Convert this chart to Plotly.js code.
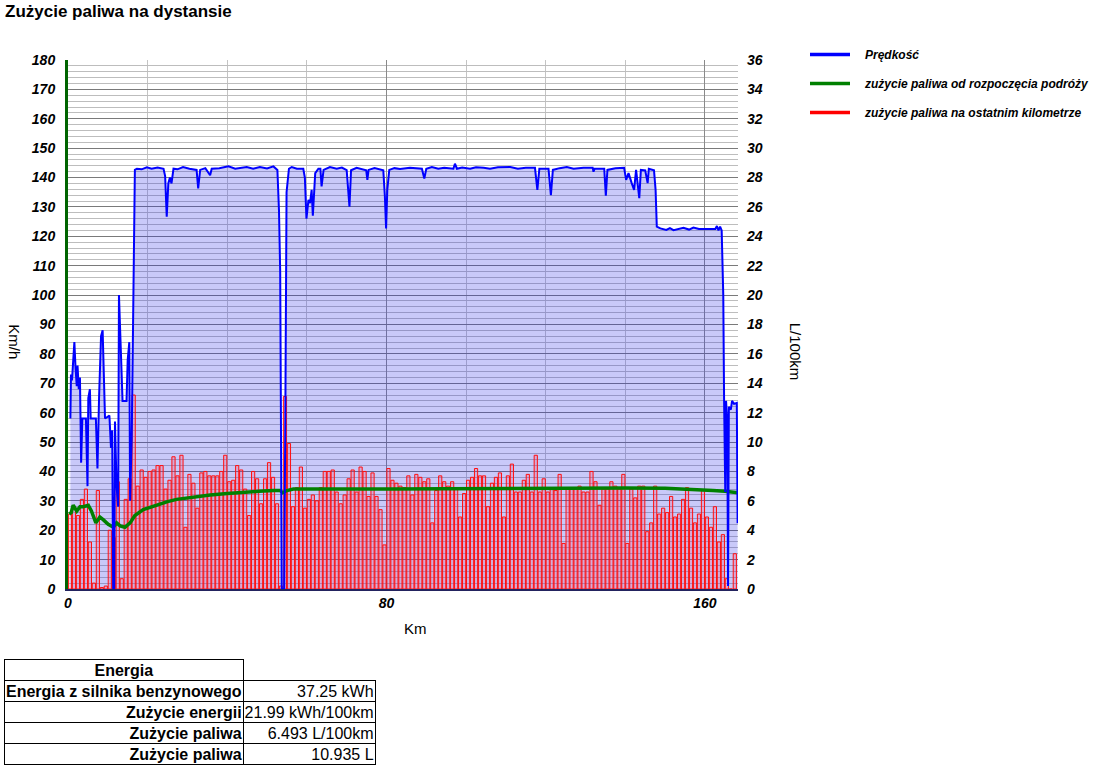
<!DOCTYPE html>
<html>
<head>
<meta charset="utf-8">
<script src="https://cdn.plot.ly/plotly-3.0.1.min.js"></script>
<style>
  body { margin: 0; overflow: hidden; background: #fff; font-family: "Liberation Sans", Arial, sans-serif; }
  #plot { position: absolute; left: 0; top: 0; width: 1103px; height: 650px; }
  #energy { position: absolute; left: 4px; top: 659px; border-collapse: collapse; font-size: 16px; white-space: nowrap; }
  #energy td, #energy th { border: 1px solid #000; padding: 0 1px; height: 20px; line-height: 19px; }
  #energy th { font-weight: bold; text-align: center; }
  #energy td.l { font-weight: bold; text-align: right; width: 235px; }
  #energy td.v { text-align: right; width: 127px; }
  #energy td.blank { border-top: none; border-right: none; }
</style>
</head>
<body>
<div id="plot"></div>
<table id="energy">
  <tr><th>Energia</th><td class="blank"></td></tr>
  <tr><td class="l">Energia z silnika benzynowego</td><td class="v">37.25 kWh</td></tr>
  <tr><td class="l">Zużycie energii</td><td class="v">21.99 kWh/100km</td></tr>
  <tr><td class="l">Zużycie paliwa</td><td class="v">6.493 L/100km</td></tr>
  <tr><td class="l">Zużycie paliwa</td><td class="v">10.935 L</td></tr>
</table>
<script>
// speed along the route (km, km/h)
const speedKm = [0.6, 0.75, 1.0, 1.3, 1.6, 1.9, 2.2, 2.4, 2.7, 3.0, 3.3, 3.6, 4.5, 4.9, 5.1, 5.5, 5.7, 7.0, 7.4, 7.8,
	8.1, 8.3, 8.7, 9.05, 9.3, 10.4, 10.8, 11.1, 11.35, 11.6, 11.8, 12.2, 12.6, 12.8, 13.3, 13.7, 14.7, 15.0, 15.4, 15.6,
	16.0, 16.4, 16.8, 17.3, 18.5, 19.8, 21, 22.5, 24.0, 24.4, 24.8, 25.2, 25.6, 26.0, 26.5, 27.5, 28.9, 30.5, 32.3, 32.7,
	33.2, 34.5, 35.7, 36.1, 38, 40.3, 42, 44.9, 46.5, 48.2, 50, 51.6, 52.6, 53.0, 53.3, 53.7, 54.3, 54.6, 54.9, 55.5,
	56.2, 57.5, 59.1, 59.5, 59.9, 60.4, 60.8, 61.2, 61.5, 62.1, 62.9, 63.4, 63.7, 64.2, 65.8, 67.5, 68.8, 70.0, 70.7, 71.1,
	72.5, 74.9, 75.2, 75.5, 77, 79.2, 79.6, 79.9, 80.2, 80.7, 82, 83.4, 85.9, 88.9, 89.5, 90.0, 91.4, 93, 94.5, 96.8,
	97.2, 97.7, 99, 101, 102.5, 104.4, 106, 108, 111.1, 113, 115, 117.3, 117.9, 118.4, 120.7, 121.3, 121.8, 123.5, 125.3, 127,
	129.5, 131.8, 132.0, 132.3, 134.7, 135.1, 135.5, 137.5, 139.7, 140.2, 140.8, 141.6, 142.2, 142.7, 143.1, 143.5, 143.9, 145.0, 145.6, 145.9,
	147.2, 147.6, 147.9, 148.8, 150.3, 151.2, 152.1, 153.5, 154.6, 156, 157.1, 158.5, 160, 161.5, 162.6, 163.0, 163.4, 163.8, 164.2, 164.6,
	164.8, 165.1, 165.3, 165.6, 165.8, 166.0, 166.5, 166.8, 167.3, 168.0, 168.2];
const speedKmh = [58, 73, 71, 79, 84, 75, 69, 76, 68, 72, 43, 58, 58, 35, 65, 68, 58, 58, 41, 65,
	78, 86, 88, 68, 58, 59, 48, 54, 0, 0, 57, 35, 28, 100, 75, 64, 64, 78, 84, 30,
	51, 100, 142.6, 143, 142.8, 143.5, 143, 143.4, 143, 140.5, 126.7, 138, 140, 138, 143, 142.8, 143.6, 143, 142.6, 136.3,
	142.6, 143.2, 140.8, 143, 143.2, 143.8, 143, 143.6, 143, 143.6, 143.1, 143.8, 142.6, 128.7, 108, 0, 0, 60, 135, 143,
	143.6, 143, 143, 140, 126, 132.4, 131.3, 135.8, 127, 141.5, 143, 143, 137, 142.6, 143.6, 143, 143.4, 142.5, 130.1, 142.5,
	143.3, 142.5, 139.2, 142.6, 143.2, 142.5, 133.6, 122.7, 135.8, 142.6, 143.2, 142.9, 143.3, 143, 139.7, 143, 143.6, 143, 143.3, 143,
	144.7, 143, 143.4, 143, 143.5, 143.3, 143, 143.5, 143.6, 143, 143.3, 143.3, 135.8, 143, 143, 134, 142.6, 143.2, 143.6, 143,
	143.3, 143.3, 142, 143, 143, 133.8, 142.6, 143.2, 143.3, 139.2, 141.5, 138.1, 135.8, 142.6, 138.1, 133, 142.6, 142.4, 138.1, 143,
	142.5, 135.8, 123.3, 122.7, 122.2, 122.8, 122.1, 122.6, 122.9, 122.3, 123, 122.5, 122.6, 122.5, 122.5, 123.5, 122, 123.3, 122, 100,
	65, 33, 64, 56.5, 1, 62, 61, 64, 63, 63.3, 22.4];

// average consumption since start (km, L/100km)
const avgKm = [0.3, 0.8, 1.3, 2.2, 3.0, 3.8, 5.1, 5.9, 7.0, 8.0, 8.9, 10.1, 11.4, 12.2, 13.1, 14.3, 15.6, 16.8, 18.9, 21,
	23.1, 25, 27.3, 29.8, 32.5, 35.7, 40, 44.1, 48, 51.6, 53.3, 53.9, 55.0, 56.6, 65, 73.4, 81.7, 95, 110, 125,
	140, 150, 155.4, 160, 162, 165, 168.3];
const avgL = [5.1, 5.2, 5.7, 5.3, 5.6, 5.6, 5.7, 5.3, 4.5, 4.9, 4.7, 4.4, 4.2, 4.5, 4.3, 4.2, 4.5, 5.0, 5.4, 5.6,
	5.8, 5.95, 6.1, 6.2, 6.3, 6.4, 6.5, 6.6, 6.65, 6.7, 6.7, 6.55, 6.7, 6.8, 6.78, 6.8, 6.8, 6.82, 6.85, 6.88,
	6.88, 6.85, 6.8, 6.75, 6.7, 6.65, 6.55];

// consumption on each kilometre (L/100km), km 0..167
const kmL = [5.1, 5.6, 5.0, 6.1, 6.8, 3.2, 0.4, 6.7, 0.1, 0.2, 4.0, 3.5, 7.3, 0.7, 6.1, 7.5, 13.2, 7.0, 8.1, 7.6,
	8.0, 8.1, 8.4, 8.4, 6.8, 7.4, 9.0, 7.7, 9.1, 4.2, 7.8, 7.2, 5.5, 7.9, 8.0, 7.7, 7.7, 7.7, 8.0, 9.1,
	7.3, 7.4, 8.4, 8.1, 6.8, 5.0, 8.0, 7.5, 5.8, 7.5, 8.6, 7.6, 5.8, 0.2, 13.1, 9.9, 5.6, 6.9, 8.3, 5.5,
	6.1, 6.4, 6.0, 6.9, 8.0, 8.0, 8.1, 6.6, 5.8, 6.4, 7.5, 8.1, 6.6, 8.3, 8.0, 6.3, 7.9, 6.3, 5.4, 3.0,
	8.2, 7.4, 7.2, 7.0, 6.9, 7.7, 6.4, 7.8, 7.6, 7.3, 7.5, 4.5, 6.7, 7.7, 7.3, 7.0, 7.3, 6.9, 4.9, 6.5,
	7.4, 7.6, 8.2, 7.7, 7.7, 5.6, 7.2, 7.6, 7.9, 4.9, 7.7, 8.5, 6.6, 6.6, 7.4, 7.8, 6.6, 9.1, 6.6, 7.5,
	6.6, 6.9, 6.7, 7.8, 3.1, 6.9, 6.9, 6.9, 7.0, 6.6, 6.6, 8.0, 7.3, 5.7, 6.8, 6.8, 7.3, 7.0, 6.8, 7.8,
	3.1, 6.8, 6.2, 7.0, 7.0, 3.9, 4.5, 7.0, 5.1, 5.5, 5.2, 6.3, 4.9, 5.1, 6.1, 6.9, 5.5, 4.5, 5.1, 6.7,
	4.9, 4.2, 5.6, 3.2, 3.7, 0.7, 0, 2.4];
const kmMid = kmL.map((_, i) => i + 0.5);

const legendNames = ["Prędkość", "zużycie paliwa od rozpoczęcia podróży", "zużycie paliwa na ostatnim kilometrze"];
const legendColors = ["#0000ff", "#008000", "#ff0000"];

const FONT = "Liberation Sans, Arial, sans-serif";
const tickFont = { family: FONT, size: 14, color: "#000", weight: "bold", style: "italic" };
const titleFont = { family: FONT, size: 15, color: "#000" };
const NB = "\u00a0\u00a0\u00a0";

const traces = [
	{
		x: speedKm, y: speedKmh, type: "scatter", mode: "none",
		fill: "tozeroy", fillcolor: "rgba(40,40,230,0.25)",
		xaxis: "x", yaxis: "y", showlegend: false, hoverinfo: "skip",
	},
	{
		x: kmMid, y: kmL, type: "bar", width: 0.8,
		marker: { color: "rgba(255,60,100,0.22)", line: { color: "#ff1010", width: 1 } },
		xaxis: "x", yaxis: "y2", showlegend: false,
	},
	{
		x: avgKm, y: avgL, type: "scatter", mode: "lines",
		line: { color: "#008000", width: 3.5 },
		xaxis: "x", yaxis: "y2", showlegend: false,
	},
	{
		x: speedKm, y: speedKmh, type: "scatter", mode: "lines",
		line: { color: "#0000ff", width: 2 },
		xaxis: "x", yaxis: "y3", showlegend: false,
	},
];

legendNames.forEach((name, i) => {
	traces.push({
		x: [null], y: [null], type: "scatter", mode: "lines",
		name: NB + name, legendgroup: "g" + i,
		line: { color: legendColors[i], width: 3.5 },
	});
});

const layout = {
	width: 1103,
	height: 650,
	margin: { l: 68, r: 365, t: 60, b: 61, autoexpand: false },
	paper_bgcolor: "#fff",
	plot_bgcolor: "#fff",
	font: { family: FONT, color: "#000" },
	title: {
		text: "Zużycie paliwa na dystansie",
		font: { family: FONT, size: 17, weight: "bold", color: "#000" },
		xref: "container", yref: "container",
		x: 5 / 1103, xanchor: "left",
		y: 1 - 11 / 650, yanchor: "middle",
	},
	barmode: "overlay",
	xaxis: {
		range: [0, 168.3],
		tick0: 0, dtick: 80,
		showgrid: true, gridcolor: "#8a8a8a", gridwidth: 1,
		minor: { dtick: 20, showgrid: true, gridcolor: "#c4c4c4", gridwidth: 1 },
		showline: true, linecolor: "#23235f", linewidth: 2,
		zeroline: false, ticks: "", ticklabelstandoff: 0,
		tickfont: tickFont,
	},
	yaxis: {
		range: [0, 180], dtick: 10,
		showgrid: true, gridcolor: "#7a7a7a", gridwidth: 1,
		minor: { dtick: 2, showgrid: true, gridcolor: "#bdbdbd", gridwidth: 1 },
		showline: true, linecolor: "#006400", linewidth: 3,
		zeroline: false, ticks: "", ticklabelstandoff: 7,
		tickfont: tickFont,
	},
	yaxis2: {
		range: [0, 36], dtick: 2, overlaying: "y", side: "right",
		showgrid: false, zeroline: false, showline: false,
		ticks: "", ticklabelstandoff: 8, tickfont: tickFont,
	},
	yaxis3: {
		range: [0, 180], overlaying: "y", visible: false,
	},
	legend: {
		x: 1.1, xanchor: "left",
		y: 1.038, yanchor: "top",
		font: { family: FONT, size: 12, color: "#000", weight: "bold", style: "italic" },
		itemwidth: 40, tracegroupgap: 10,
		bgcolor: "rgba(0,0,0,0)",
	},
	annotations: [
		{ text: "Km", xref: "paper", yref: "paper", x: 0.518, y: -0.074, xanchor: "center", yanchor: "middle",
			showarrow: false, font: titleFont },
		{ text: "Km/h", xref: "paper", yref: "paper", x: -0.081, y: 0.467, xanchor: "center", yanchor: "middle",
			showarrow: false, textangle: 90, font: titleFont },
		{ text: "L/100km", xref: "paper", yref: "paper", x: 1.087, y: 0.448, xanchor: "center", yanchor: "middle",
			showarrow: false, textangle: 90, font: titleFont },
	],
};

Plotly.newPlot("plot", traces, layout, { displayModeBar: false, staticPlot: true });
</script>
</body>
</html>
